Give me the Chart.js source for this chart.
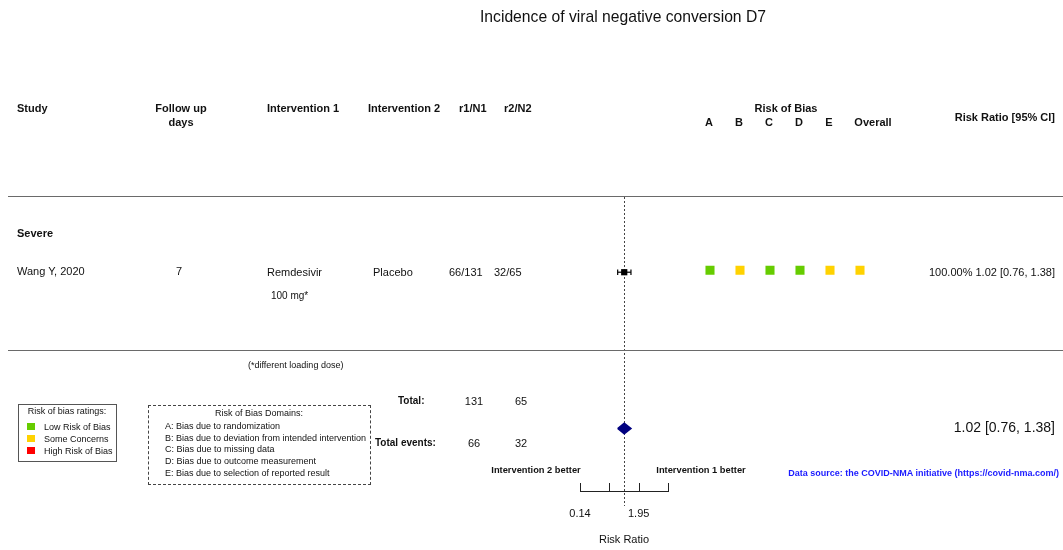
<!DOCTYPE html>
<html>
<head>
<meta charset="utf-8">
<script src="https://cdn.jsdelivr.net/npm/chart.js@4.4.0/dist/chart.umd.min.js"></script>
<style>
  html, body { margin: 0; padding: 0; background: #fff; }
  #page { position: relative; width: 1063px; height: 550px; overflow: hidden; background: #fff;
          font-family: "Liberation Sans", Arial, Helvetica, sans-serif; color: #111; }
  .t { position: absolute; white-space: nowrap; line-height: 1.15; }
  .rule { position: absolute; height: 0; border-top: 1px solid #6a6a6a; }
  canvas { position: absolute; left: 0; top: 0; }
  .box { position: absolute; box-sizing: border-box; }
  .sw { position: absolute; width: 8px; height: 7px; }
</style>
</head>
<body>
<div id="page">
  <canvas id="forest" width="1063" height="550"></canvas>
  <canvas id="rob" width="1063" height="550"></canvas>
</div>
<script>
// ---- study data ----
const studies        = ['Wang Y, 2020'];
const followUpDays   = ['7'];
const intervention1  = ['Remdesivir'];
const intervention1Dose = ['100 mg*'];
const intervention2  = ['Placebo'];
const events1        = [66];
const total1         = [131];
const events2        = [32];
const total2         = [65];
const riskRatio      = [1.02];
const ciLower        = [0.76];
const ciUpper        = [1.38];
const weightPct      = [100.00];

// pooled estimate
const pooledRR    = [1.02];
const pooledLower = [0.76];
const pooledUpper = [1.38];

// risk of bias per study (A..E, Overall)
const robDomains = ['A', 'B', 'C', 'D', 'E', 'Overall'];
const robRatings = [['low', 'some', 'low', 'low', 'some', 'some']];

// risk ratio axis
const axisTicks      = [0.14, 0.52, 1.95, 7.28];
const axisTickLabels = ['0.14', '', '1.95', ''];

// ---- layout and style ----
const ROB_COLORS = { low: '#66cc00', some: '#ffd200', high: '#ff0000' };
const ROW = { studyTop: 8, pooled: 0, min: -3.2, max: 11.85 };
const DIAMOND_HALF = 0.27;
const PAGE_W = 1063;
const page = document.getElementById('page');

function text(str, x, y, o = {}) {
  const d = document.createElement('div');
  d.className = 't';
  d.textContent = str;
  d.style.fontSize = (o.size || 11) + 'px';
  if (o.bold) d.style.fontWeight = 'bold';
  if (o.color) d.style.color = o.color;
  const align = o.align || 'left';
  d.style.top = y + 'px';
  if (align === 'left') { d.style.left = x + 'px'; d.style.transform = 'translateY(-50%)'; }
  else if (align === 'center') { d.style.left = x + 'px'; d.style.transform = 'translate(-50%,-50%)'; }
  else { d.style.right = (PAGE_W - x) + 'px'; d.style.transform = 'translateY(-50%)'; }
  page.appendChild(d);
  return d;
}
function rule(x1, x2, y) {
  const d = document.createElement('div');
  d.className = 'rule';
  d.style.left = x1 + 'px'; d.style.width = (x2 - x1) + 'px'; d.style.top = y + 'px';
  page.appendChild(d);
}
const fmt2 = v => v.toFixed(2);
const ciText = (e, l, u) => `${fmt2(e)} [${fmt2(l)}, ${fmt2(u)}]`;

// title
text('Incidence of viral negative conversion D7', 623, 17, { size: 15.7, align: 'center' });

// column headers
text('Study', 17, 108, { bold: true });
text('Follow up', 181, 108, { bold: true, align: 'center' });
text('days', 181, 122, { bold: true, align: 'center' });
text('Intervention 1', 267, 108, { bold: true });
text('Intervention 2', 368, 108, { bold: true });
text('r1/N1', 459, 108, { bold: true });
text('r2/N2', 504, 108, { bold: true });
text('Risk of Bias', 786, 108, { bold: true, align: 'center' });
const robHeaderX = [709, 739, 769, 799, 829, 873];
robDomains.forEach((d, i) => text(d, robHeaderX[i], 122, { bold: true, align: 'center' }));
text('Risk Ratio [95% CI]', 1055, 117, { bold: true, align: 'right' });

rule(8, 1063, 196);
rule(8, 1063, 350);

// subgroup and study rows
text('Severe', 17, 233, { bold: true });
studies.forEach((s, i) => {
  const y = 271 + i * 40;
  text(s, 17, y);
  text(followUpDays[i], 179, y, { align: 'center' });
  text(intervention1[i], 267, y + 1);
  text(intervention1Dose[i], 271, y + 25, { size: 10 });
  text(intervention2[i], 373, y + 1);
  text(`${events1[i]}/${total1[i]}`, 449, y + 1);
  text(`${events2[i]}/${total2[i]}`, 494, y + 1);
  text(`${weightPct[i].toFixed(2)}% ${ciText(riskRatio[i], ciLower[i], ciUpper[i])}`, 1055, y + 1, { align: 'right' });
});

text('(*different loading dose)', 248, 365, { size: 9 });

// totals
const sum = a => a.reduce((s, v) => s + v, 0);
text('Total:', 398, 401, { bold: true, size: 10 });
text(String(sum(total1)), 474, 401, { align: 'center' });
text(String(sum(total2)), 521, 401, { align: 'center' });
text('Total events:', 375, 443, { bold: true, size: 10 });
text(String(sum(events1)), 474, 443, { align: 'center' });
text(String(sum(events2)), 521, 443, { align: 'center' });
text(ciText(pooledRR[0], pooledLower[0], pooledUpper[0]), 1055, 427, { size: 14, align: 'right' });

text('Intervention 2 better', 536, 470, { bold: true, size: 9.3, align: 'center' });
text('Intervention 1 better', 701, 470, { bold: true, size: 9.3, align: 'center' });
text('Data source: the COVID-NMA initiative (https://covid-nma.com/)', 1059, 473,
     { bold: true, size: 9, color: '#1a1aff', align: 'right' });

// rating legend
const legendA = document.createElement('div');
legendA.className = 'box';
Object.assign(legendA.style, { left: '18px', top: '404px', width: '99px', height: '58px', border: '1.5px solid #555' });
page.appendChild(legendA);
text('Risk of bias ratings:', 67, 411, { size: 9, align: 'center' });
[['Low Risk of Bias', 'low'], ['Some Concerns', 'some'], ['High Risk of Bias', 'high']].forEach(([lab, key], i) => {
  const y = 427 + i * 12;
  const sw = document.createElement('div');
  sw.className = 'sw';
  Object.assign(sw.style, { left: '27px', top: (y - 4) + 'px', background: ROB_COLORS[key] });
  page.appendChild(sw);
  text(lab, 44, y, { size: 9 });
});

// domain legend
const legendB = document.createElement('div');
legendB.className = 'box';
Object.assign(legendB.style, { left: '148px', top: '405px', width: '223px', height: '80px', border: '1px dashed #444' });
page.appendChild(legendB);
text('Risk of Bias Domains:', 259, 413, { size: 9, align: 'center' });
['A: Bias due to randomization',
 'B: Bias due to deviation from intended intervention',
 'C: Bias due to missing data',
 'D: Bias due to outcome measurement',
 'E: Bias due to selection of reported result'].forEach((s, i) => text(s, 165, 426 + i * 11.7, { size: 9 }));

// ---- charts ----
Chart.defaults.font.family = '"Liberation Sans", Arial, Helvetica, sans-serif';
Chart.defaults.color = '#111';
Chart.defaults.animation = false;

const hiddenY = { type: 'linear', display: false, min: ROW.min, max: ROW.max };

// reference line at RR = 1 and upward axis ticks
const forestDecor = {
  id: 'forestDecor',
  beforeDatasetsDraw(chart) {
    const { ctx, chartArea } = chart;
    const x = chart.scales.x.getPixelForValue(1);
    ctx.save();
    ctx.strokeStyle = '#444';
    ctx.lineWidth = 1;
    ctx.setLineDash([2, 2]);
    ctx.beginPath();
    ctx.moveTo(Math.round(x) + 0.5, chartArea.top);
    ctx.lineTo(Math.round(x) + 0.5, chartArea.bottom + 15);
    ctx.stroke();
    ctx.restore();
  },
  afterDraw(chart) {
    const { ctx, chartArea } = chart;
    const sx = chart.scales.x;
    ctx.save();
    ctx.strokeStyle = '#222';
    ctx.lineWidth = 1;
    sx.ticks.forEach(t => {
      const px = Math.round(sx.getPixelForValue(t.value)) + 0.5;
      ctx.beginPath();
      ctx.moveTo(px, chartArea.bottom);
      ctx.lineTo(px, chartArea.bottom - 8);
      ctx.stroke();
    });
    ctx.restore();
  }
};

const ciDatasets = studies.map((s, i) => ({
  label: s + ' CI',
  data: [{ x: ciLower[i], y: ROW.studyTop - i }, { x: ciUpper[i], y: ROW.studyTop - i }],
  showLine: true,
  borderColor: '#000',
  borderWidth: 1.2,
  pointStyle: 'line',
  rotation: 90,
  pointRadius: 2.8,
  pointBorderColor: '#000',
  pointBorderWidth: 1.2
}));

new Chart(document.getElementById('forest'), {
  type: 'scatter',
  data: {
    datasets: [
      ...ciDatasets,
      {
        label: 'Risk ratio',
        data: riskRatio.map((v, i) => ({ x: v, y: ROW.studyTop - i })),
        pointStyle: 'rect',
        pointRadius: 4.4,
        backgroundColor: '#000',
        borderColor: '#000',
        borderWidth: 0
      },
      {
        label: 'Pooled',
        data: [
          { x: pooledLower[0], y: ROW.pooled },
          { x: pooledRR[0], y: ROW.pooled + DIAMOND_HALF },
          { x: pooledUpper[0], y: ROW.pooled },
          { x: pooledRR[0], y: ROW.pooled - DIAMOND_HALF },
          { x: pooledLower[0], y: ROW.pooled }
        ],
        showLine: true,
        fill: 'shape',
        tension: 0,
        pointRadius: 0,
        borderColor: '#000080',
        backgroundColor: '#000080',
        borderWidth: 1.5
      }
    ]
  },
  options: {
    responsive: false,
    devicePixelRatio: 1,
    layout: { padding: { left: 580, right: 395, top: 197, bottom: 0 } },
    plugins: { legend: { display: false }, tooltip: { enabled: false } },
    scales: {
      x: {
        type: 'logarithmic',
        position: 'bottom',
        bounds: 'data',
        min: axisTicks[0],
        max: axisTicks[axisTicks.length - 1],
        afterBuildTicks: s => { s.ticks = axisTicks.map(v => ({ value: v })); },
        afterFit: s => { s.height = 59; },
        grid: { display: true, drawOnChartArea: false, drawTicks: false },
        border: { display: true, color: '#222', width: 1 },
        ticks: {
          padding: 16,
          autoSkip: false,
          maxRotation: 0,
          font: { size: 11 },
          color: '#111',
          callback: (v, i) => axisTickLabels[i]
        },
        title: { display: true, text: 'Risk Ratio', font: { size: 11 }, color: '#111', padding: { top: 0, bottom: 3 } }
      },
      y: hiddenY
    }
  },
  plugins: [forestDecor]
});

// risk of bias squares
new Chart(document.getElementById('rob'), {
  type: 'scatter',
  data: {
    labels: robDomains,
    datasets: studies.map((s, i) => ({
      label: s + ' RoB',
      data: robDomains.map(d => ({ x: d, y: ROW.studyTop - i + 0.1 })),
      pointStyle: 'rect',
      pointRadius: 6.4,
      borderWidth: 0,
      pointBackgroundColor: robRatings[i].map(r => ROB_COLORS[r]),
      pointBorderColor: robRatings[i].map(r => ROB_COLORS[r])
    }))
  },
  options: {
    responsive: false,
    devicePixelRatio: 1,
    layout: { padding: { left: 695, right: 188, top: 197, bottom: 59 } },
    plugins: { legend: { display: false }, tooltip: { enabled: false } },
    scales: {
      x: { type: 'category', labels: robDomains, offset: true, display: false },
      y: hiddenY
    }
  }
});
</script>
</body>
</html>
